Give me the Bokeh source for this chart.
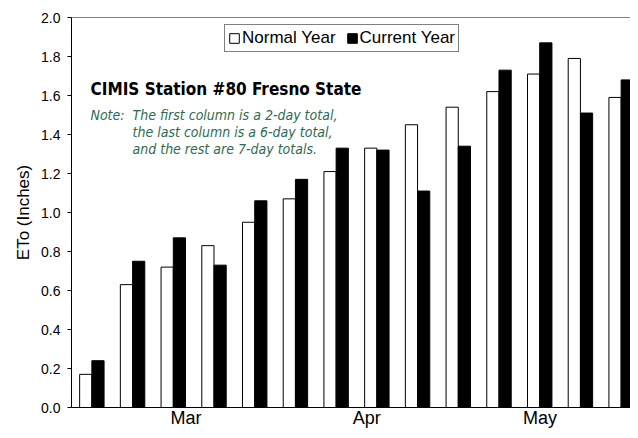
import numpy as np
from bokeh.plotting import figure
from bokeh.models import (Range1d, FixedTicker, Label, Legend, LegendItem, Span,
                          ColumnDataSource, NumeralTickFormatter)
from bokeh.embed import file_html
from bokeh.resources import INLINE

# ---- data ----
weeks = list(range(1, 15))
normal_year = [0.17, 0.63, 0.72, 0.83, 0.95, 1.07, 1.21, 1.33, 1.45, 1.54, 1.62, 1.71, 1.79, 1.59]
current_year = [0.24, 0.75, 0.87, 0.73, 1.06, 1.17, 1.33, 1.32, 1.11, 1.34, 1.73, 1.87, 1.51, 1.68]
month_labels = ["Mar", "Apr", "May"]
month_positions = [2.81, 7.25, 11.51]   # mid-month, in weekly-column units
y_ticks = [0.0, 0.2, 0.4, 0.6, 0.8, 1.0, 1.2, 1.4, 1.6, 1.8, 2.0]

FONT = "'Liberation Sans', Arial, sans-serif"
NARROW = "'DejaVu Sans Condensed', 'Liberation Sans', sans-serif"

idx = np.arange(len(weeks))
src = ColumnDataSource(dict(
    xn=idx + 0.35, xc=idx + 0.65, normal=normal_year, current=current_year))

p = figure(width=630, height=430, output_backend="svg", toolbar_location=None,
           x_range=Range1d(0, 13.73), y_range=Range1d(0, 2.0),
           min_border_left=71, min_border_top=17, min_border_bottom=21, min_border_right=0)
p.outline_line_color = None
p.grid.visible = False
p.background_fill_color = "white"
p.border_fill_color = "white"

rn = p.vbar(x="xn", top="normal", width=0.3, source=src,
            fill_color="white", line_color="black", line_width=1)
rc = p.vbar(x="xc", top="current", width=0.3, source=src,
            fill_color="black", line_color="black", line_width=1)

p.add_layout(Span(location=2.0, dimension="width", line_color="black", line_width=1))

# y axis
ya = p.yaxis[0]
ya.ticker = FixedTicker(ticks=y_ticks)
ya.formatter = NumeralTickFormatter(format="0.0")
ya.major_tick_out = 4
ya.major_tick_in = 0
ya.minor_tick_line_color = None
ya.major_label_standoff = 7
ya.major_label_text_font = FONT
ya.major_label_text_font_size = "14px"
ya.major_label_text_color = "black"
ya.axis_line_color = "black"
ya.axis_label = "ETo (Inches)"
ya.axis_label_text_font = FONT
ya.axis_label_text_font_size = "17px"
ya.axis_label_text_font_style = "normal"
ya.axis_label_text_color = "black"
ya.axis_label_standoff = 5

# x axis
xa = p.xaxis[0]
xa.ticker = FixedTicker(ticks=month_positions)
xa.major_label_overrides = {pos: lab for pos, lab in zip(month_positions, month_labels)}
xa.major_tick_line_color = None
xa.major_tick_out = 0
xa.major_tick_in = 0
xa.minor_tick_line_color = None
xa.major_label_standoff = 0
xa.major_label_text_font = FONT
xa.major_label_text_font_size = "18px"
xa.major_label_text_color = "black"
xa.axis_line_color = "black"

# legend
legend = Legend(items=[LegendItem(label="Normal Year", renderers=[rn]),
                       LegendItem(label="Current Year", renderers=[rc])],
                orientation="horizontal", location=(153, 355),
                border_line_color="black", border_line_width=1,
                padding=3, margin=0, spacing=10, label_standoff=2,
                glyph_width=12, glyph_height=12, label_height=18,
                label_text_font=FONT, label_text_font_size="17px",
                label_text_color="black", background_fill_alpha=1)
p.add_layout(legend)

# title and note
p.add_layout(Label(x=19, y=319, x_units="screen", y_units="screen",
                   text="CIMIS Station #80 Fresno State",
                   text_font=NARROW, text_font_size="17px", text_font_style="bold",
                   text_color="black", text_baseline="alphabetic"))
green = "#2e6b52"
note_lines = ["The first column is a 2-day total,",
              "the last column is a 6-day total,",
              "and the rest are 7-day totals."]
p.add_layout(Label(x=19, y=293, x_units="screen", y_units="screen", text="Note:",
                   text_font=NARROW, text_font_size="14px", text_font_style="italic",
                   text_color=green, text_baseline="alphabetic"))
for k, line in enumerate(note_lines):
    p.add_layout(Label(x=61, y=293 - 17 * k, x_units="screen", y_units="screen", text=line,
                       text_font=NARROW, text_font_size="14px", text_font_style="italic",
                       text_color=green, text_baseline="alphabetic"))

open("out.html", "w").write(file_html(p, INLINE))
